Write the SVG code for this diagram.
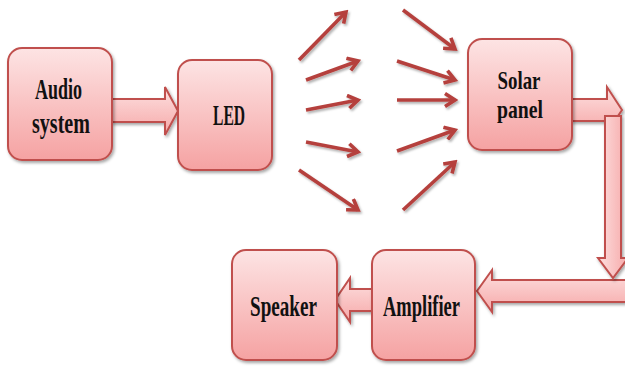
<svg xmlns="http://www.w3.org/2000/svg" width="625" height="366" viewBox="0 0 625 366">
<defs>
<linearGradient id="g" x1="0" y1="0" x2="0" y2="1">
<stop offset="0" stop-color="#fde4e4"/>
<stop offset="1" stop-color="#f5a2a2"/>
</linearGradient>
<linearGradient id="ga" x1="0" y1="0" x2="0" y2="1">
<stop offset="0" stop-color="#fde0e0"/>
<stop offset="1" stop-color="#f6a8a8"/>
</linearGradient>
<linearGradient id="gv" x1="0" y1="0" x2="1" y2="0">
<stop offset="0" stop-color="#fde0e0"/>
<stop offset="1" stop-color="#f6a8a8"/>
</linearGradient>
<filter id="sh" x="-20%" y="-20%" width="140%" height="140%">
<feDropShadow dx="1.5" dy="2" stdDeviation="1.5" flood-color="#000" flood-opacity="0.35"/>
</filter>
<filter id="shu" filterUnits="userSpaceOnUse" x="0" y="0" width="625" height="366">
<feDropShadow dx="1.5" dy="2" stdDeviation="1.2" flood-color="#000" flood-opacity="0.3"/>
</filter>
<marker id="ch" viewBox="0 0 16 16" refX="13" refY="8" markerWidth="16" markerHeight="16" markerUnits="userSpaceOnUse" orient="auto">
<path d="M3,1.5 L13,8 L3,14.5" fill="none" stroke="#b5403d" stroke-width="3.6" stroke-linejoin="miter"/>
</marker>
</defs>
<style>
.box{fill:url(#g);stroke:#c0504d;stroke-width:2;filter:url(#sh)}
.blk{fill:url(#ga);stroke:#c0504d;stroke-width:2;stroke-linejoin:miter;filter:url(#sh)}
.ray{stroke:#b5403d;stroke-width:3.6;fill:none;marker-end:url(#ch)}
.t{font-family:"Liberation Serif",serif;font-weight:bold;font-size:30px;fill:#111;text-anchor:middle}
.s{font-size:26px}
</style>
<g id="connectors">
<polygon class="blk" points="112,99 165,99 165,87 178,111 165,135 165,122 112,122"/>
<polygon class="blk" points="572,99 607,99 607,87 622,110 607,132 607,121 572,121"/>
<polygon class="blk" points="626,280 492,280 492,270 477,291 492,312 492,302 626,302"/>
<polygon class="blk" style="fill:url(#gv)" points="605,116 621,116 621,258 628,258 613,278 598,258 605,258"/>
<polygon class="blk" points="372,289 350,289 350,278 335,300 350,322 350,311 372,311"/>
<g filter="url(#shu)">
<line class="ray" x1="299" y1="60" x2="346" y2="12"/>
<line class="ray" x1="306" y1="80" x2="358" y2="61"/>
<line class="ray" x1="306" y1="110" x2="358" y2="100"/>
<line class="ray" x1="306" y1="142" x2="358" y2="152"/>
<line class="ray" x1="299" y1="170" x2="358" y2="210"/>
<line class="ray" x1="403" y1="10" x2="455" y2="49"/>
<line class="ray" x1="397" y1="61" x2="455" y2="80"/>
<line class="ray" x1="397" y1="100" x2="455" y2="100"/>
<line class="ray" x1="397" y1="151" x2="455" y2="130"/>
<line class="ray" x1="403" y1="210" x2="455" y2="162"/>
</g>
</g>
<g id="audio">
<rect class="box" x="8" y="48" width="104" height="112" rx="14"/>
<text class="t" x="58.5" y="99" textLength="47" lengthAdjust="spacingAndGlyphs">Audio</text>
<text class="t" x="61" y="133" textLength="58" lengthAdjust="spacingAndGlyphs">system</text>
</g>
<g id="led">
<rect class="box" x="178" y="60" width="94" height="110" rx="14"/>
<text class="t" x="229" y="125" textLength="32" lengthAdjust="spacingAndGlyphs">LED</text>
</g>
<g id="solar">
<rect class="box" x="468" y="39" width="104" height="111" rx="14"/>
<text class="t s" x="519" y="89" textLength="43" lengthAdjust="spacingAndGlyphs">Solar</text>
<text class="t s" x="520" y="118" textLength="46" lengthAdjust="spacingAndGlyphs">panel</text>
</g>
<g id="speaker">
<rect class="box" x="232" y="250" width="105" height="110" rx="14"/>
<text class="t" x="283.5" y="316" textLength="67" lengthAdjust="spacingAndGlyphs">Speaker</text>
</g>
<g id="amplifier">
<rect class="box" x="372" y="250" width="103" height="110" rx="14"/>
<text class="t" x="421.5" y="316" textLength="77" lengthAdjust="spacingAndGlyphs">Amplifier</text>
</g>
</svg>
